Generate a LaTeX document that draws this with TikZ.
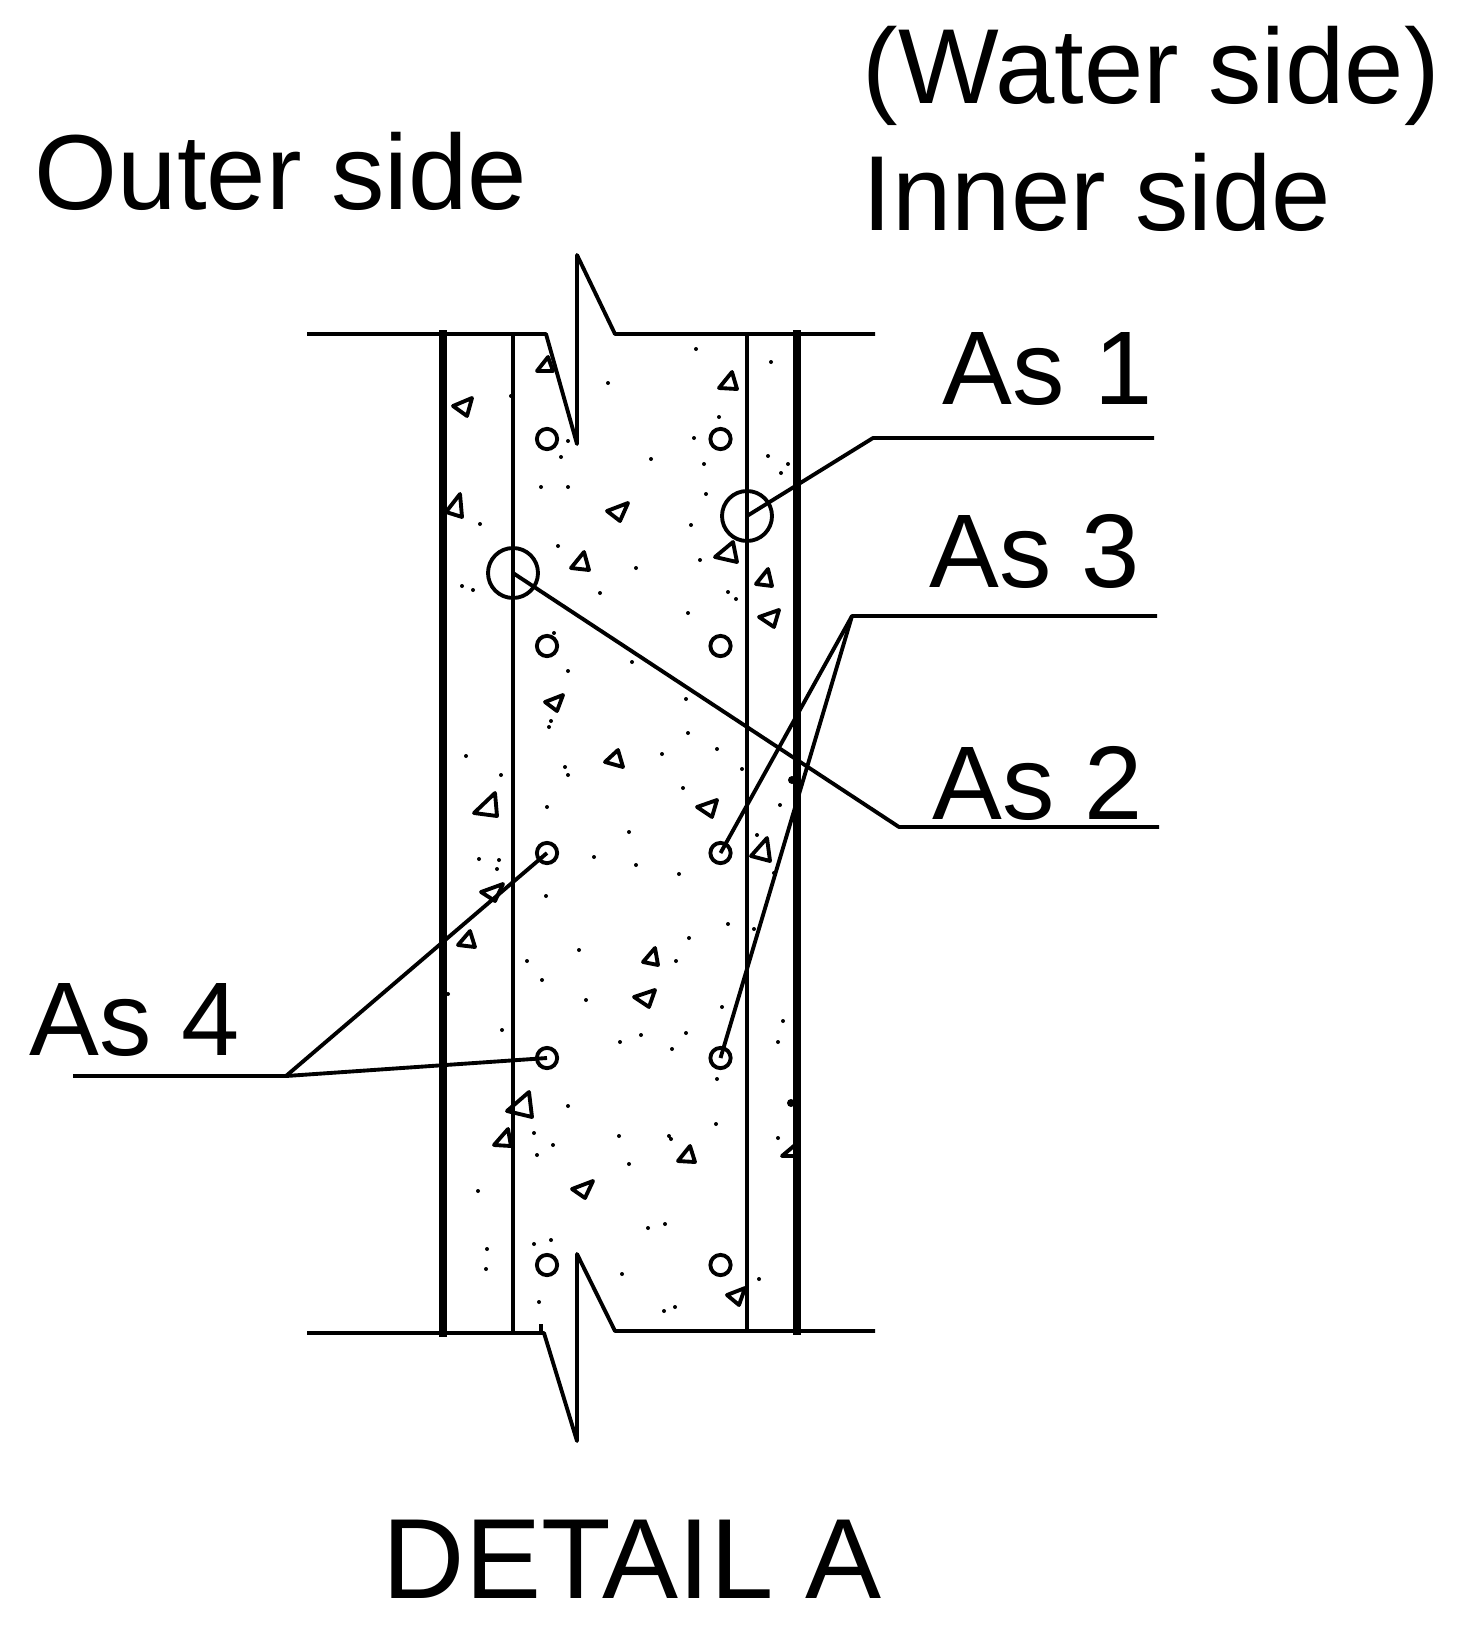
\documentclass[tikz,border=0pt]{standalone}
\usepackage{fontspec}
\setmainfont{Liberation Sans}
\tikzset{every picture/.style={line width=2.9pt},
  wallthick/.style={line width=5.8pt},
  outline/.style={line join=round},
  barmark/.style={draw,circle,inner sep=0pt,minimum size=15.2pt},
  bigmark/.style={draw,circle,inner sep=0pt,minimum size=37.5pt},
  aggmark/.style={line join=round},
  labeltext/.style={anchor=base west,inner sep=0pt,font=\fontsize{78.5}{90}\selectfont},
  headtext/.style={anchor=base west,inner sep=0pt,font=\fontsize{80}{92}\selectfont}}

\begin{document}
\begin{tikzpicture}[x=0.75pt,y=0.75pt,yscale=-1,xscale=1]
        \useasboundingbox (0,0) rectangle (1459,1630);
        %Wall outline top and bottom
        \draw [outline] (307,334) -- (546,334) -- (577,444) -- (577,255) -- (615,334) -- (875,334) ;
        \draw [outline] (307,1333) -- (544,1333) -- (577,1441) -- (577,1254) -- (615,1331) -- (875,1331) ;
        \draw (541,1333) -- (541,1324) ;
        %Wall faces
        \draw [wallthick] (443,330) -- (443,1337) ;
        \draw [wallthick] (797,330) -- (797,1335) ;
        \draw (513,334) -- (513,1333) ;
        \draw (747,334) -- (747,1331) ;
        %Bars
        \node [barmark] (barL1) at (547,439) {};
        \node [barmark] (barR1) at (720.5,439) {};
        \node [barmark] (barL2) at (547,646) {};
        \node [barmark] (barR2) at (720.5,646) {};
        \node [barmark] (barL3) at (547,853) {};
        \node [barmark] (barR3) at (720.5,853) {};
        \node [barmark] (barL4) at (547,1058) {};
        \node [barmark] (barR4) at (720.5,1058) {};
        \node [barmark] (barL5) at (547,1265) {};
        \node [barmark] (barR5) at (720.5,1265) {};
        \node [bigmark] (markA) at (747,516) {};
        \node [bigmark] (markB) at (513,573) {};
        %Leader lines
        \coordinate (elbowA) at (873,438);
        \coordinate (endA) at (1154,438);
        \coordinate (elbowB) at (852,616);
        \coordinate (endB) at (1157,616);
        \coordinate (elbowC) at (899,827);
        \coordinate (endC) at (1159,827);
        \coordinate (elbowD) at (286,1076);
        \coordinate (endD) at (73,1076);
        \draw [outline] (markA.center) -- (elbowA) -- (endA) ;
        \draw [outline] (barR3.center) -- (elbowB) -- (endB) ;
        \draw [outline] (barR4.center) -- (elbowB) ;
        \draw [outline] (markB.center) -- (elbowC) -- (endC) ;
        \draw [outline] (barL3.center) -- (elbowD) -- (endD) ;
        \draw [outline] (barL4.center) -- (elbowD) ;
        %Aggregate triangles
        \draw [aggmark] (537,371) -- (553,371) -- (548,357) -- cycle ;
        \draw [aggmark] (719,388) -- (737,389) -- (732,372) -- cycle ;
        \draw [aggmark] (453,406) -- (472,398) -- (467,416) -- cycle ;
        \draw [aggmark] (446,512) -- (462,517) -- (460,494) -- cycle ;
        \draw [aggmark] (607,511) -- (628,503) -- (620,521) -- cycle ;
        \draw [aggmark] (571,568) -- (589,570) -- (584,552) -- cycle ;
        \draw [aggmark] (715,557) -- (737,562) -- (733,542) -- cycle ;
        \draw [aggmark] (756,584) -- (772,586) -- (768,569) -- cycle ;
        \draw [aggmark] (759,617) -- (779,610) -- (774,627) -- cycle ;
        \draw [aggmark] (545,702) -- (563,695) -- (557,711) -- cycle ;
        \draw [aggmark] (605,762) -- (623,767) -- (618,750) -- cycle ;
        \draw [aggmark] (697,807) -- (717,800) -- (712,817) -- cycle ;
        \draw [aggmark] (474,813) -- (497,816) -- (495,793) -- cycle ;
        \draw [aggmark] (751,856) -- (770,861) -- (767,838) -- cycle ;
        \draw [aggmark] (481,892) -- (503,884) -- (495,901) -- cycle ;
        \draw [aggmark] (458,945) -- (475,947) -- (470,931) -- cycle ;
        \draw [aggmark] (643,962) -- (658,965) -- (655,948) -- cycle ;
        \draw [aggmark] (634,997) -- (655,990) -- (649,1007) -- cycle ;
        \draw [aggmark] (507,1111) -- (532,1117) -- (529,1092) -- cycle ;
        \draw [aggmark] (494,1145) -- (511,1146) -- (508,1129) -- cycle ;
        \draw [aggmark] (678,1161) -- (695,1162) -- (690,1146) -- cycle ;
        \draw [aggmark] (572,1189) -- (593,1181) -- (585,1198) -- cycle ;
        \draw [aggmark] (727,1295) -- (745,1288) -- (739,1305) -- cycle ;
        \draw [aggmark] (782,1156) -- (797,1156) -- (795,1145) -- cycle ;
        %Sand dots
        \fill (696,349) circle (2) (771,362) circle (2) (608,383) circle (2) (511,396) circle (2) (719,417) circle (2) (694,438) circle (2) (568,441) circle (2) (561,457) circle (2) ;
        \fill (651,459) circle (2) (704,464) circle (2) (768,456) circle (2) (788,464) circle (2) (781,473) circle (2) (541,487) circle (2) (568,487) circle (2) (706,494) circle (2) ;
        \fill (480,524) circle (2) (691,525) circle (2) (558,546) circle (2) (700,560) circle (2) (636,568) circle (2) (462,586) circle (2) (473,590) circle (2) (600,593) circle (2) ;
        \fill (728,592) circle (2) (736,599) circle (2) (688,613) circle (2) (554,633) circle (2) (568,671) circle (2) (632,662) circle (2) (686,699) circle (2) (551,721) circle (2) (549,727) circle (2) ;
        \fill (688,733) circle (2) (717,749) circle (2) (662,754) circle (2) (466,756) circle (2) (565,767) circle (2) (568,775) circle (2) (501,775) circle (2) (742,769) circle (2) ;
        \fill (683,788) circle (2) (780,805) circle (2) (547,807) circle (2) (629,832) circle (2) (757,835) circle (2) (479,859) circle (2) (499,860) circle (2) (497,869) circle (2) ;
        \fill (594,857) circle (2) (636,865) circle (2) (679,874) circle (2) (774,873) circle (2) (546,896) circle (2) (728,924) circle (2) (754,929) circle (2) (689,938) circle (2) ;
        \fill (579,950) circle (2) (527,961) circle (2) (676,961) circle (2) (542,980) circle (2) (448,994) circle (2) (586,1000) circle (2) (722,1007) circle (2) (783,1021) circle (2) ;
        \fill (502,1030) circle (2) (686,1033) circle (2) (641,1035) circle (2) (620,1042) circle (2) (778,1042) circle (2) (672,1049) circle (2) (717,1079) circle (2) (568,1106) circle (2) ;
        \fill (534,1133) circle (2) (619,1136) circle (2) (669,1136) circle (2) (671,1139) circle (2) (716,1124) circle (2) (778,1138) circle (2) (553,1145) circle (2) (537,1155) circle (2) ;
        \fill (629,1164) circle (2) (478,1191) circle (2) (665,1224) circle (2) (648,1228) circle (2) (551,1240) circle (2) (534,1244) circle (2) (487,1249) circle (2) (486,1269) circle (2) ;
        \fill (622,1274) circle (2) (759,1279) circle (2) (539,1302) circle (2) (675,1307) circle (2) (664,1311) circle (2) (792,780) circle (4) (791,1103) circle (4) ;
        % Text Node
        \node [headtext] (waterText) at (861,104) {(Water side)};
        % Text Node
        \node [headtext] (innerText) at (861,231) {Inner side};
        % Text Node
        \node [headtext] (outerText) at (33,210) {Outer side};
        % Text Node
        \node [labeltext] (asOne) at (941,404) {As 1};
        % Text Node
        \node [labeltext] (asThree) at (928,587) {As 3};
        % Text Node
        \node [labeltext] (asTwo) at (931,819) {As 2};
        % Text Node
        \node [labeltext] (asFour) at (28,1055) {As 4};
        % Text Node
        \node [labeltext,font=\fontsize{85.5}{98}\selectfont] (detailText) at (381,1598) {DETAIL A};
    \end{tikzpicture}
\end{document}
